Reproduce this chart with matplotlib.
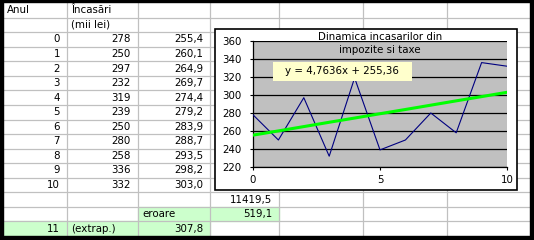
import numpy as np
import matplotlib
matplotlib.use("Agg")
import matplotlib.pyplot as plt
from matplotlib.patches import Rectangle

# date din foaia de calcul
ani = [0, 1, 2, 3, 4, 5, 6, 7, 8, 9, 10]
incasari = [278, 250, 297, 232, 319, 239, 250, 280, 258, 336, 332]
trend = [255.4, 260.1, 264.9, 269.7, 274.4, 279.2, 283.9, 288.7, 293.5, 298.2, 303.0]
suma_patrate = 11419.5
eroare = 519.1
an_extrap = 11
val_extrap = 307.8
ecuatie = "y = 4,7636x + 255,36"
titlu = "Dinamica incasarilor din\nimpozite si taxe"
yticks = [220, 240, 260, 280, 300, 320, 340, 360]
xticks = [0, 5, 10]

W, H = 534, 240
FONT = "DejaVu Sans"
FS = 7.4
GRID = "#c0c0c0"
VERDE = "#ccffcc"


def fmt(v):
    return f"{v:.1f}".replace(".", ",")


fig = plt.figure(figsize=(W / 100, H / 100), dpi=100)
bg = fig.add_axes([0, 0, 1, 1])
bg.set_xlim(0, W)
bg.set_ylim(H, 0)
bg.axis("off")

col_x = [3, 67, 138, 210, 279, 363, 447, 530]
row_h = (236 - 3) / 16
row_y = [3 + i * row_h for i in range(17)]

# celule colorate
bg.add_patch(Rectangle((col_x[2], row_y[14]), col_x[4] - col_x[2], row_h, color=VERDE, zorder=1))
bg.add_patch(Rectangle((col_x[0], row_y[15]), col_x[3] - col_x[0], row_h, color=VERDE, zorder=1))

# liniile grilei
for y in row_y[1:-1]:
    bg.plot([col_x[0], col_x[-1]], [y, y], color=GRID, lw=0.9, zorder=2)
for x in col_x[1:-1]:
    bg.plot([x, x], [row_y[0], row_y[-1]], color=GRID, lw=0.9, zorder=2)

# chenarul negru
bg.add_patch(Rectangle((0, 0), 3, H, color="black", zorder=5))
bg.add_patch(Rectangle((0, 0), W, 1.5, color="black", zorder=5))
bg.add_patch(Rectangle((530, 0), 4, H, color="black", zorder=5))
bg.add_patch(Rectangle((0, 236), W, 4, color="black", zorder=5))


def cell(r, c, s, align="right"):
    yc = row_y[r] + row_h / 2
    if align == "right":
        bg.text(col_x[c + 1] - 7, yc, s, ha="right", va="center", fontsize=FS, family=FONT, zorder=3)
    else:
        bg.text(col_x[c] + 4, yc, s, ha="left", va="center", fontsize=FS, family=FONT, zorder=3)


cell(0, 0, "Anul", "left")
cell(0, 1, "Încasări", "left")
cell(1, 1, "(mii lei)", "left")
for i, (a, v, t) in enumerate(zip(ani, incasari, trend)):
    cell(2 + i, 0, str(a))
    cell(2 + i, 1, str(v))
    cell(2 + i, 2, fmt(t))
cell(13, 3, fmt(suma_patrate))
cell(14, 2, "eroare", "left")
cell(14, 3, fmt(eroare))
cell(15, 0, str(an_extrap))
cell(15, 1, "(extrap.)", "left")
cell(15, 2, fmt(val_extrap))

# obiectul grafic
bg.add_patch(Rectangle((215, 29), 517 - 215, 190 - 29, facecolor="white",
                       edgecolor="black", lw=1.2, zorder=4))

px0, px1, py0, py1 = 253, 507, 41, 167
ax = fig.add_axes([px0 / W, (H - py1) / H, (px1 - px0) / W, (py1 - py0) / H])
ax.set_facecolor("#c0c0c0")
ax.set_xlim(0, 10)
ax.set_ylim(220, 360)
ax.set_yticks(yticks)
ax.set_xticks(xticks)
ax.grid(axis="y", color="black", lw=0.9)
ax.set_axisbelow(True)
ax.plot(ani, incasari, color="#000080", lw=0.8, zorder=3)
ax.plot(ani, trend, color="#00ff00", lw=2.2, zorder=4)
for s in ["top", "right"]:
    ax.spines[s].set_visible(False)
for s in ["left", "bottom"]:
    ax.spines[s].set_linewidth(0.9)
ax.tick_params(axis="y", length=2.5, width=0.8, pad=6, labelsize=FS)
ax.tick_params(axis="x", length=2.5, width=0.8, pad=3, labelsize=FS)
for lab in ax.get_xticklabels() + ax.get_yticklabels():
    lab.set_family(FONT)

# caseta cu ecuatia trendului
ax.add_patch(Rectangle((273, 62), 412 - 273, 81 - 62, transform=bg.transData,
                       facecolor="#ffffcc", edgecolor="none", clip_on=False, zorder=6))

fig.text(380, 43.5, titlu, transform=bg.transData, ha="center", va="center",
         fontsize=FS, family=FONT, linespacing=1.45)
fig.text(342, 71.5, ecuatie, transform=bg.transData, ha="center", va="center",
         fontsize=FS, family=FONT)

fig.savefig("out.png", dpi=100)
